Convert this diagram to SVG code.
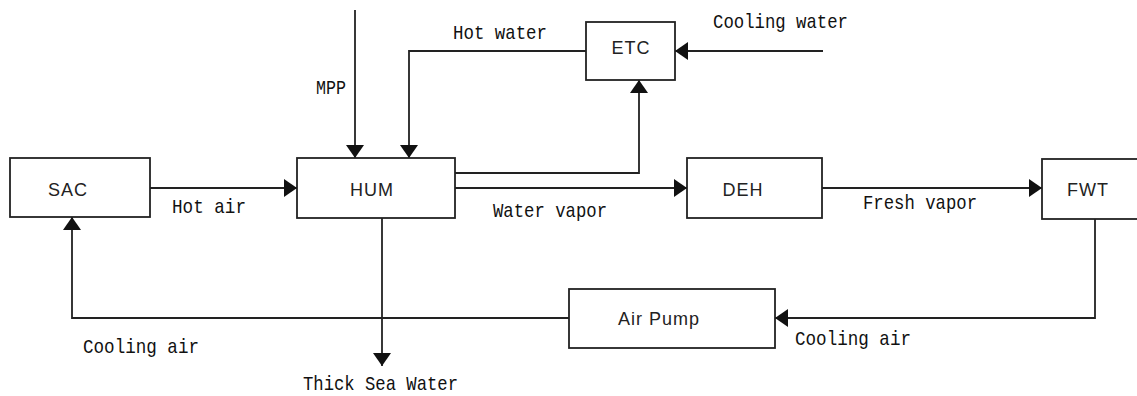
<svg xmlns="http://www.w3.org/2000/svg" width="1137" height="396" viewBox="0 0 1137 396">
<style>
.box{fill:#fff;stroke:#222;stroke-width:1.8}
.node{font-family:"Liberation Sans",Arial,sans-serif;font-size:18px;fill:#222;text-anchor:middle;letter-spacing:1px}
.lbl{font-family:"Liberation Mono","Courier New",monospace;font-size:21px;fill:#111}
.conn{fill:none;stroke:#222;stroke-width:1.8;marker-end:url(#arr)}
</style>
<defs>
<marker id="arr" viewBox="0 0 13 18" refX="13" refY="9" markerWidth="13" markerHeight="18" markerUnits="userSpaceOnUse" orient="auto">
<path d="M0,0 L13,9 L0,18 z" fill="#111"/>
</marker>
</defs>
<rect width="1137" height="396" fill="#fff"/>
<g id="connectors">
<path class="conn" d="M355,10 L355,158"/>
<path class="conn" d="M586,51 L409,51 L409,158"/>
<path class="conn" d="M823,51 L675,51"/>
<path class="conn" d="M455,173 L639,173 L639,80"/>
<path class="conn" d="M455,188 L687,188"/>
<path class="conn" d="M150,188 L297,188"/>
<path class="conn" d="M822,188 L1042,188"/>
<path class="conn" d="M1095,218 L1095,318 L775,318"/>
<path class="conn" d="M569,318 L72,318 L72,217"/>
<path class="conn" d="M382,218 L382,366"/>
</g>
<g id="labels">
<text class="lbl" x="316" y="94" textLength="30" lengthAdjust="spacingAndGlyphs">MPP</text>
<text class="lbl" x="453" y="39" textLength="94" lengthAdjust="spacingAndGlyphs">Hot water</text>
<text class="lbl" x="713" y="28" textLength="135" lengthAdjust="spacingAndGlyphs">Cooling water</text>
<text class="lbl" x="172" y="213" textLength="74" lengthAdjust="spacingAndGlyphs">Hot air</text>
<text class="lbl" x="493" y="217" textLength="114" lengthAdjust="spacingAndGlyphs">Water vapor</text>
<text class="lbl" x="863" y="209" textLength="114" lengthAdjust="spacingAndGlyphs">Fresh vapor</text>
<text class="lbl" x="795" y="345" textLength="116" lengthAdjust="spacingAndGlyphs">Cooling air</text>
<text class="lbl" x="83" y="353" textLength="116" lengthAdjust="spacingAndGlyphs">Cooling air</text>
<text class="lbl" x="303" y="390" textLength="155" lengthAdjust="spacingAndGlyphs">Thick Sea Water</text>
</g>
<g id="SAC"><rect class="box" x="10" y="158" width="140" height="59"/><text class="node" x="68" y="196">SAC</text></g>
<g id="HUM"><rect class="box" x="297" y="158" width="158" height="60"/><text class="node" x="372" y="196">HUM</text></g>
<g id="ETC"><rect class="box" x="586" y="22" width="89" height="58"/><text class="node" x="631" y="54">ETC</text></g>
<g id="DEH"><rect class="box" x="687" y="158" width="135" height="60"/><text class="node" x="743" y="196">DEH</text></g>
<g id="FWT"><rect class="box" x="1042" y="159" width="100" height="60"/><text class="node" x="1088" y="196">FWT</text></g>
<g id="AirPump"><rect class="box" x="569" y="289" width="206" height="59"/><text class="node" x="659" y="325">Air Pump</text></g>
</svg>
